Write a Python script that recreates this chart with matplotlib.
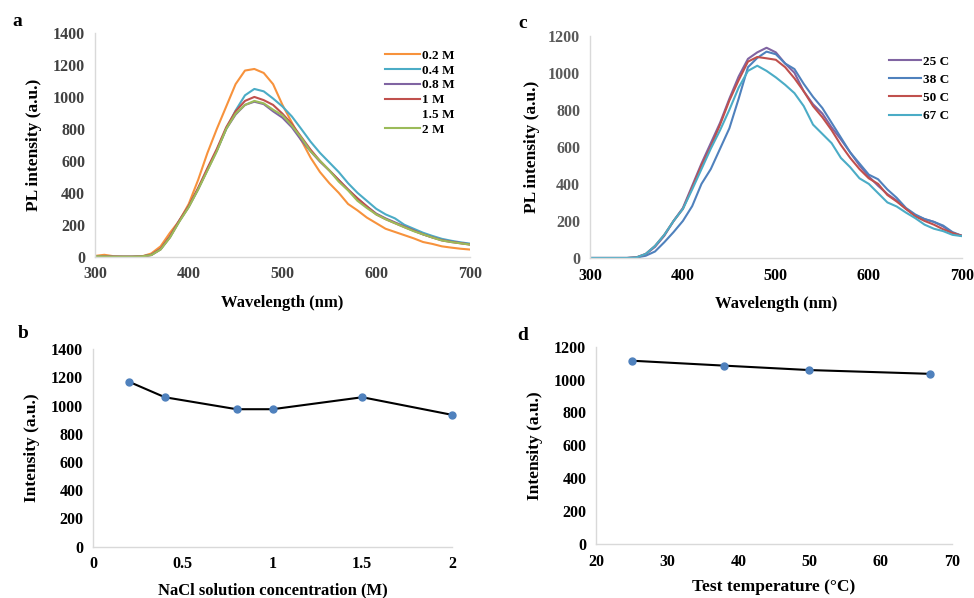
import numpy as np
from matplotlib import pyplot as plt

plt.rcParams['font.family'] = ['Liberation Serif', 'DejaVu Serif']
plt.rcParams['font.weight'] = 'bold'

# wavelength grid (nm) for both spectra panels
wl = np.arange(300, 701, 10)

# panel a: PL spectra vs NaCl concentration
pl_02 = [5, 12, 3, 0, 0, 2, 20, 65, 150, 225, 330, 480, 650, 800, 940, 1080, 1165, 1175, 1150, 1080, 950,
         840, 730, 620, 530, 460, 400, 330, 290, 245, 210, 175, 155, 135, 115, 92, 80, 65, 57, 50, 45]
pl_04 = [3, 2, 0, 0, 0, 2, 12, 48, 125, 225, 315, 425, 545, 665, 800, 915, 1010, 1050, 1035, 990, 940,
         878, 800, 720, 650, 590, 530, 460, 400, 350, 300, 265, 240, 200, 175, 150, 130, 112, 100, 90, 82]
pl_08 = [3, 2, 0, 0, 0, 2, 10, 46, 122, 222, 312, 422, 545, 665, 800, 890, 950, 970, 955, 910, 870,
         810, 730, 660, 595, 540, 480, 420, 365, 315, 270, 240, 215, 190, 165, 140, 122, 105, 95, 86, 78]
pl_1 = [3, 2, 0, 0, 0, 2, 12, 50, 128, 228, 318, 430, 555, 675, 810, 910, 975, 1000, 980, 950, 895,
        830, 750, 670, 600, 540, 480, 420, 365, 315, 265, 235, 210, 185, 162, 140, 120, 102, 92, 84, 76]
pl_2 = [3, 2, 0, 0, 0, 2, 10, 45, 120, 220, 310, 420, 540, 660, 800, 895, 950, 975, 960, 920, 885,
        820, 745, 660, 600, 540, 470, 415, 350, 305, 265, 235, 210, 185, 160, 140, 120, 102, 92, 84, 76]

# panel c: PL spectra vs temperature
pl_25 = [0, 0, 0, 0, 0, 3, 20, 60, 120, 200, 270, 390, 510, 620, 730, 860, 980, 1075, 1110, 1135, 1110,
         1050, 1000, 900, 830, 780, 705, 640, 570, 500, 440, 390, 345, 310, 265, 230, 210, 195, 170, 135, 120]
pl_38 = [0, 0, 0, 0, 0, 2, 12, 35, 85, 140, 200, 280, 400, 480, 590, 700, 860, 1030, 1080, 1114, 1100,
         1050, 1020, 940, 870, 810, 730, 650, 570, 510, 450, 425, 370, 325, 270, 235, 210, 195, 175, 140, 120]
pl_50 = [0, 0, 0, 0, 0, 3, 22, 65, 125, 200, 265, 380, 500, 600, 720, 850, 960, 1060, 1085, 1078, 1070,
         1030, 970, 900, 820, 760, 690, 610, 540, 480, 430, 400, 340, 305, 265, 225, 200, 180, 155, 135, 120]
pl_67 = [0, 0, 0, 0, 0, 3, 22, 65, 125, 200, 265, 370, 480, 590, 690, 800, 920, 1010, 1038, 1010, 975,
         935, 890, 820, 720, 670, 620, 540, 490, 430, 400, 350, 300, 278, 245, 215, 180, 158, 145, 125, 118]

# panel b: peak intensity vs NaCl concentration
conc = [0.2, 0.4, 0.8, 1.0, 1.5, 2.0]
peak_conc = [1170, 1060, 975, 975, 1060, 935]

# panel d: peak intensity vs temperature
temp = [25, 38, 50, 67]
peak_temp = [1115, 1085, 1058, 1035]

fig = plt.figure(figsize=(9.74, 5.98), dpi=100)

def style(ax, tick_color='black', ycolor=None):
    for s in ['top', 'right']:
        ax.spines[s].set_visible(False)
    for s in ['left', 'bottom']:
        ax.spines[s].set_color('#d9d9d9')
        ax.spines[s].set_linewidth(1.0)
    ax.tick_params(length=0, labelsize=11.5, colors=tick_color, pad=7)
    if ycolor:
        ax.tick_params(axis='y', colors=ycolor)
    for lab in ax.get_xticklabels() + ax.get_yticklabels():
        lab.set_fontweight('bold')

# ---- a ----
axa = fig.add_axes([0.0975, 0.5707, 0.385, 0.3741])
axa.plot(wl, pl_02, color='#f7923c', lw=1.5, label='0.2 M')
axa.plot(wl, pl_04, color='#4bacc6', lw=1.5, label='0.4 M')
axa.plot(wl, pl_08, color='#8064a2', lw=1.5, label='0.8 M')
axa.plot(wl, pl_1, color='#c0504d', lw=1.5, label='1 M')
axa.plot([], [], color='none', lw=1.5, label='1.5 M')
axa.plot(wl, pl_2, color='#9bbb59', lw=1.5, label='2 M')
axa.set_xlim(300, 700)
axa.set_ylim(0, 1400)
axa.set_xticks(range(300, 701, 100))
axa.set_yticks(range(0, 1401, 200))
style(axa, '#404040')
axa.set_xlabel('Wavelength (nm)', fontsize=12, fontweight='bold', labelpad=9)
axa.set_ylabel('PL intensity (a.u.)', fontsize=12.5, fontweight='bold', labelpad=8)
axa.legend(loc='upper left', bbox_to_anchor=(0.76, 0.95), frameon=False, fontsize=9.5,
           handlelength=2.6, handletextpad=0.15, labelspacing=0.2, borderaxespad=0)
fig.text(0.013, 0.957, 'a', fontsize=14, fontweight='bold')

# ---- c ----
axc = fig.add_axes([0.6057, 0.5686, 0.3817, 0.3717])
axc.plot(wl, pl_25, color='#8064a2', lw=1.5, label='25 C')
axc.plot(wl, pl_38, color='#4f81bd', lw=1.5, label='38 C')
axc.plot(wl, pl_50, color='#c0504d', lw=1.5, label='50 C')
axc.plot(wl, pl_67, color='#4bacc6', lw=1.5, label='67 C')
axc.set_xlim(300, 700)
axc.set_ylim(0, 1200)
axc.set_xticks(range(300, 701, 100))
axc.set_yticks(range(0, 1201, 200))
style(axc, 'black', '#595959')
axc.set_xlabel('Wavelength (nm)', fontsize=12, fontweight='bold', labelpad=9)
axc.set_ylabel('PL intensity (a.u.)', fontsize=12.5, fontweight='bold', labelpad=6)
axc.legend(loc='upper left', bbox_to_anchor=(0.79, 0.935), frameon=False, fontsize=9.5,
           handlelength=2.4, handletextpad=0.15, labelspacing=0.45, borderaxespad=0)
fig.text(0.532, 0.953, 'c', fontsize=14, fontweight='bold')

# ---- b ----
axb = fig.add_axes([0.0955, 0.0858, 0.3686, 0.3301])
axb.plot(conc, peak_conc, color='black', lw=1.5, marker='o', ms=5,
         mfc='#4f81bd', mec='#4f81bd', clip_on=False)
axb.set_xlim(0, 2)
axb.set_ylim(0, 1400)
axb.set_xticks([0, 0.5, 1, 1.5, 2])
axb.set_xticklabels(['0', '0.5', '1', '1.5', '2'])
axb.set_yticks(range(0, 1401, 200))
style(axb)
axb.set_xlabel('NaCl solution concentration (M)', fontsize=12, fontweight='bold', labelpad=7)
axb.set_ylabel('Intensity (a.u.)', fontsize=12.5, fontweight='bold', labelpad=8)
fig.text(0.018, 0.434, 'b', fontsize=14, fontweight='bold')

# ---- d ----
axd = fig.add_axes([0.6119, 0.0903, 0.3652, 0.3299])
axd.plot(temp, peak_temp, color='black', lw=1.5, marker='o', ms=5,
         mfc='#4f81bd', mec='#4f81bd', clip_on=False)
axd.set_xlim(20, 70)
axd.set_ylim(0, 1200)
axd.set_xticks(range(20, 71, 10))
axd.set_yticks(range(0, 1201, 200))
style(axd)
axd.set_xlabel('Test temperature (°C)', fontsize=12.5, fontweight='bold', labelpad=7)
axd.set_ylabel('Intensity (a.u.)', fontsize=12.5, fontweight='bold', labelpad=8)
fig.text(0.531, 0.432, 'd', fontsize=14, fontweight='bold')

plt.savefig('out.png', dpi=100)
